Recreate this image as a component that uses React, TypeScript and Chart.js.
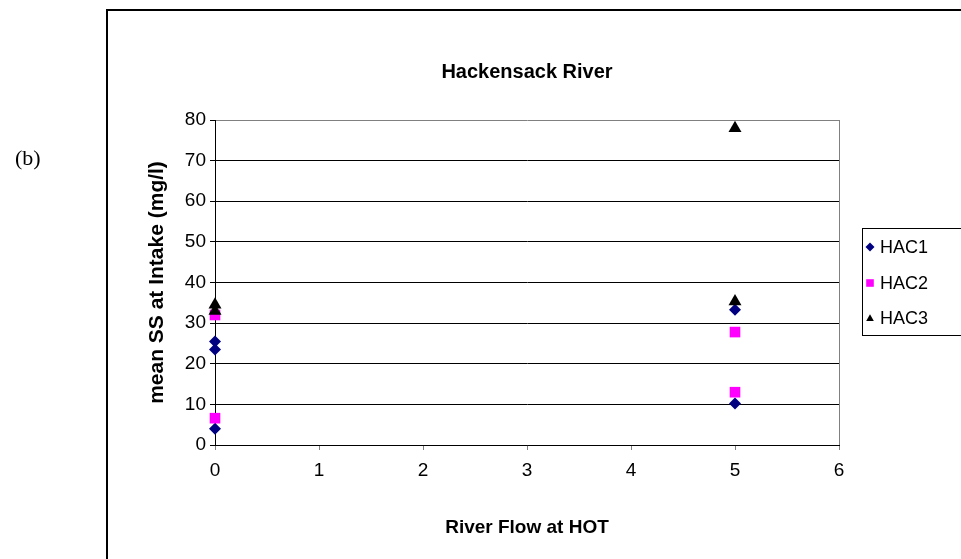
import React, { useEffect, useRef } from 'react';
import { Chart, registerables } from 'chart.js';

Chart.register(...registerables);

const SANS = "'Liberation Sans', Arial, sans-serif";
const SERIF = "'Liberation Serif', 'Times New Roman', serif";

const chartTitle = 'Hackensack River';
const xAxisTitle = 'River Flow at HOT';
const yAxisTitle = 'mean SS at Intake (mg/l)';
const panelLabel = '(b)';

const seriesNames = ['HAC1', 'HAC2', 'HAC3'];
const seriesColors = ['#000080', '#FF00FF', '#000000'];
const seriesStyles = ['rectRot', 'rect', 'triangle'];
const seriesRadius = [6, 7.5, 7.5];

const hac1X = [0, 0, 0, 5, 5];
const hac1Y = [25.5, 23.5, 4, 33.3, 10.2];
const hac2X = [0, 0, 5, 5];
const hac2Y = [32, 6.6, 27.8, 13];
const hac3X = [0, 0, 5, 5];
const hac3Y = [34.5, 33, 78, 35.3];

const xMin = 0;
const xMax = 6;
const xStep = 1;
const yMin = 0;
const yMax = 80;
const yStep = 10;

const toPoints = (xs: number[], ys: number[]) => xs.map((x, i) => ({ x, y: ys[i] }));

const drawMarker = (ctx: CanvasRenderingContext2D, style: string, x: number, y: number, r: number, color: string) => {
  ctx.save();
  ctx.fillStyle = color;
  ctx.beginPath();
  if (style === 'rectRot') {
    ctx.moveTo(x, y - r);
    ctx.lineTo(x + r, y);
    ctx.lineTo(x, y + r);
    ctx.lineTo(x - r, y);
  } else if (style === 'rect') {
    ctx.rect(x - r, y - r, 2 * r, 2 * r);
  } else {
    ctx.moveTo(x, y - r);
    ctx.lineTo(x + r, y + r * 0.8);
    ctx.lineTo(x - r, y + r * 0.8);
  }
  ctx.closePath();
  ctx.fill();
  ctx.restore();
};

const framePlugin = {
  id: 'framePlugin',
  beforeDatasetsDraw(chart: any) {
    const ctx: CanvasRenderingContext2D = chart.ctx;
    const a = chart.chartArea;
    ctx.save();
    ctx.strokeStyle = '#808080';
    ctx.lineWidth = 1;
    ctx.beginPath();
    ctx.moveTo(Math.round(a.right) + 0.5, a.top);
    ctx.lineTo(Math.round(a.right) + 0.5, a.bottom);
    ctx.stroke();
    ctx.restore();
  },
  afterDraw(chart: any) {
    const ctx: CanvasRenderingContext2D = chart.ctx;
    ctx.save();
    // outer frame (top and left edges visible)
    ctx.strokeStyle = '#000';
    ctx.lineWidth = 2;
    ctx.beginPath();
    ctx.moveTo(107, 559);
    ctx.lineTo(107, 10);
    ctx.lineTo(961, 10);
    ctx.stroke();

    // panel label
    ctx.fillStyle = '#000';
    ctx.font = `22px ${SERIF}`;
    ctx.textBaseline = 'alphabetic';
    ctx.textAlign = 'left';
    ctx.fillText(panelLabel, 15, 165);

    // legend
    ctx.strokeStyle = '#000';
    ctx.lineWidth = 1;
    ctx.strokeRect(862.5, 228.5, 200, 107);
    const rows = [247, 283, 318];
    ctx.font = `18px ${SANS}`;
    ctx.textBaseline = 'middle';
    seriesNames.forEach((name, i) => {
      const r = i === 0 ? 4.5 : 3.8;
      drawMarker(ctx, seriesStyles[i], 870, rows[i], r, seriesColors[i]);
      ctx.fillStyle = '#000';
      ctx.fillText(name, 880, rows[i] + 1);
    });
    ctx.restore();
  },
};

export default function App() {
  const canvasRef = useRef<HTMLCanvasElement | null>(null);

  useEffect(() => {
    if (!canvasRef.current) return;
    const xs = [hac1X, hac2X, hac3X];
    const ys = [hac1Y, hac2Y, hac3Y];
    const chart = new Chart(canvasRef.current, {
      type: 'scatter',
      data: {
        datasets: seriesNames.map((name, i) => ({
          label: name,
          data: toPoints(xs[i], ys[i]),
          pointStyle: seriesStyles[i] as any,
          pointRadius: seriesRadius[i],
          pointHoverRadius: seriesRadius[i],
          backgroundColor: seriesColors[i],
          borderColor: seriesColors[i],
          borderWidth: 0,
          clip: false as any,
          order: 2 - i,
        })),
      },
      options: {
        responsive: false,
        animation: false,
        devicePixelRatio: 1,
        layout: { padding: { left: 140, right: 122, top: 0, bottom: 0 } },
        plugins: {
          legend: { display: false },
          tooltip: { enabled: false },
          title: {
            display: true,
            text: chartTitle,
            fullSize: false,
            color: '#000',
            font: { family: SANS, size: 20, weight: 'bold' },
            padding: { top: 60, bottom: 36 },
          },
        },
        scales: {
          x: {
            type: 'linear',
            min: xMin,
            max: xMax,
            afterFit: (scale: any) => { scale.height = 114; },
            ticks: {
              stepSize: xStep,
              color: '#000',
              font: { family: SANS, size: 19 },
              padding: 9,
              maxRotation: 0,
            },
            grid: {
              drawOnChartArea: false,
              color: '#808080',
              tickColor: '#808080',
              tickLength: 5,
            },
            border: { color: '#000', width: 1 },
            title: {
              display: true,
              text: xAxisTitle,
              color: '#000',
              font: { family: SANS, size: 19, weight: 'bold' },
              padding: { top: 0, bottom: 20 },
            },
          },
          y: {
            type: 'linear',
            min: yMin,
            max: yMax,
            afterFit: (scale: any) => { scale.width = 75; },
            ticks: {
              stepSize: yStep,
              color: '#000',
              font: { family: SANS, size: 19 },
              padding: 4,
            },
            grid: {
              color: (c: any) => (c.tick && c.tick.value === yMax ? '#808080' : '#000'),
              tickColor: '#000',
              tickLength: 5,
            },
            border: { color: '#000', width: 1 },
            title: {
              display: true,
              text: yAxisTitle,
              color: '#000',
              font: { family: SANS, size: 21, weight: 'bold' },
              padding: { top: 5, bottom: 0 },
            },
          },
        },
      },
      plugins: [framePlugin],
    });
    return () => chart.destroy();
  }, []);

  return (
    <div style={{ position: 'fixed', left: 0, top: 0, width: 961, height: 559, background: '#fff' }}>
      <canvas ref={canvasRef} width={961} height={559} style={{ width: 961, height: 559 }} />
    </div>
  );
}
